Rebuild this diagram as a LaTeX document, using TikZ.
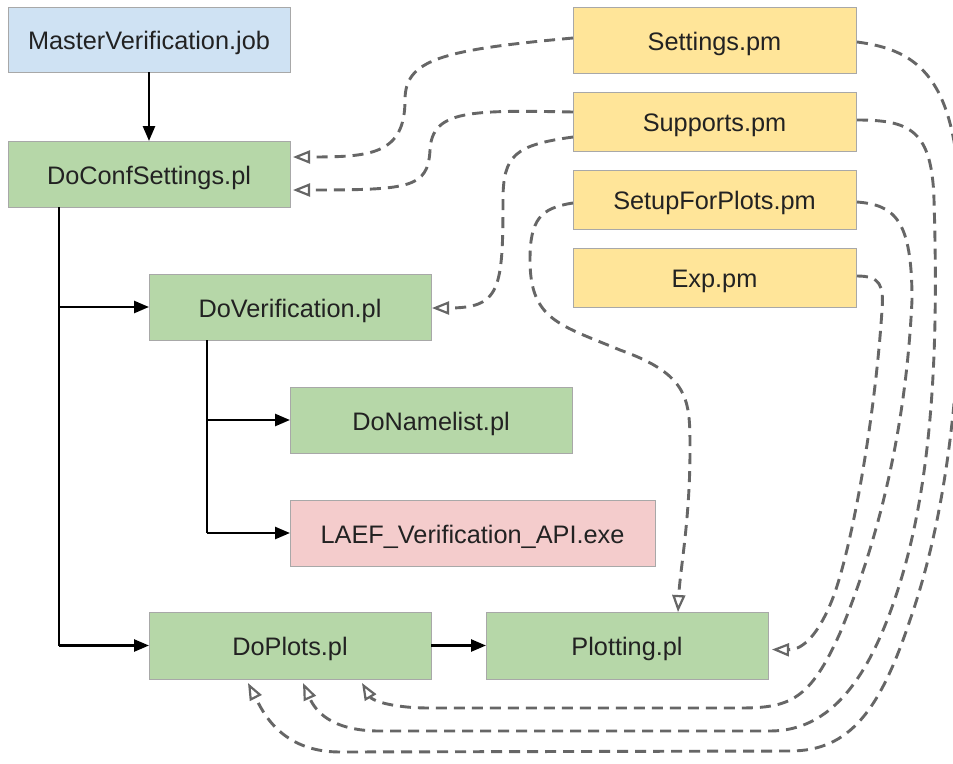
\documentclass[tikz,border=0pt]{standalone}
\usepackage{fontspec}
\setmainfont{Liberation Sans}
\usetikzlibrary{arrows.meta,calc}
\definecolor{cblue}{HTML}{CFE2F3}
\definecolor{cgreen}{HTML}{B6D7A8}
\definecolor{cpink}{HTML}{F4CCCC}
\definecolor{cyellow}{HTML}{FFE599}
\definecolor{cedge}{HTML}{A8A8A8}
\definecolor{cdash}{HTML}{666666}
\definecolor{ctext}{HTML}{222222}
\tikzset{
  box/.style={draw=cedge, line width=1pt, inner sep=0pt, outer sep=0pt,
    minimum height=66pt, text=ctext, font=\fontsize{25.3}{30}\selectfont,
    text height=20pt, text depth=0pt},
  wbox/.style={box, minimum width=282pt},
  pmbox/.style={box, fill=cyellow, minimum width=283pt, minimum height=59pt},
  blk/.style={draw=black, line width=2.5pt, -{Triangle[length=15pt,width=12pt]}},
  blkline/.style={draw=black, line width=2.5pt},
  dsh/.style={draw=cdash, line width=2.9pt, dash pattern=on 11pt off 7pt,
    -{Triangle[open, length=17pt, width=13pt, line width=2.2pt]}},
}
\begin{document}
\begin{tikzpicture}[x=1pt,y=-1pt]
\useasboundingbox (0,0) rectangle (953,763);
\clip (0,0) rectangle (953,763);
\fill[white] (0,0) rectangle (953,763);
% nodes
\node[wbox, fill=cblue, minimum height=65pt] (master) at (149,39.5) {MasterVerification.job};
\node[wbox, fill=cgreen] (conf) at (149,174) {DoConfSettings.pl};
\node[wbox, fill=cgreen] (ver) at (290,307) {DoVerification.pl};
\node[wbox, fill=cgreen] (namel) at (431,420) {DoNamelist.pl};
\node[box, fill=cpink, minimum width=365pt] (laef) at (472.5,533) {LAEF\_Verification\_API.exe};
\node[wbox, fill=cgreen, minimum height=67pt] (doplots) at (290,645.5) {DoPlots.pl};
\node[wbox, fill=cgreen, minimum height=67pt] (plotting) at (627,645.5) {Plotting.pl};
\node[pmbox, minimum height=66pt] (settings) at (714.5,40) {Settings.pm};
\node[pmbox] (supports) at (714.5,121.5) {Supports.pm};
\node[pmbox] (setup) at (714.5,199.5) {SetupForPlots.pm};
\node[pmbox] (exp) at (714.5,277.5) {Exp.pm};
% trunk coordinates
\coordinate (t1) at ($(conf.south)+(-90,0)$);
\coordinate (t2) at ($(ver.south)+(-83,0)$);
% black connectors
\draw[blk] (master.south) -- (conf.north);
\draw[blkline] (t1) -- (t1 |- doplots.west);
\draw[blk] (t1 |- ver.west) -- (ver.west);
\draw[blk] (t1 |- doplots.west) -- (doplots.west);
\draw[blkline] (t2) -- (t2 |- laef.west);
\draw[blk] (t2 |- namel.west) -- (namel.west);
\draw[blk] (t2 |- laef.west) -- (laef.west);
\draw[blk] (doplots.east) -- (plotting.west);
% dashed connectors
\draw[dsh] ($(settings.west)+(0,-2)$) .. controls (440,50) and (405,60) .. (405,100)
  .. controls (405,155) and (370,157) .. ($(conf.east)+(3,-17)$);
\draw[dsh] ($(supports.west)+(0,-9.5)$) .. controls (470,110) and (432,110) .. (430,150)
  .. controls (428,188) and (410,190) .. ($(conf.east)+(3,16)$);
\draw[dsh] ($(supports.west)+(0,15.5)$) .. controls (515,145) and (503,155) .. (503,200)
  .. controls (503,290) and (500,308) .. ($(ver.east)+(1,1)$);
\draw[dsh] ($(setup.west)+(0,3.5)$) .. controls (540,208) and (530,220) .. (530,260)
  .. controls (530,320) and (560,325) .. (620,350)
  .. controls (690,375) and (690,400) .. (690,450)
  .. controls (690,520) and (680,570) .. ($(plotting.north)+(51,0)$);
\draw[dsh] ($(exp.east)+(1,-1.5)$) .. controls (880,276) and (884,285) .. (882,310)
  .. controls (875,420) and (850,560) .. (830,605)
  .. controls (815,640) and (800,650) .. ($(plotting.east)+(4,4)$);
\draw[dsh] ($(setup.east)+(1,2.5)$) .. controls (895,205) and (912,220) .. (912,300)
  .. controls (905,450) and (870,560) .. (840,633)
  .. controls (810,700) and (790,708) .. (740,708)
  -- (430,708)
  .. controls (390,708) and (372,700) .. ($(doplots.south)+(72,4)$);
\draw[dsh] ($(supports.east)+(1,-1.5)$) .. controls (910,120) and (932,130) .. (934,200)
  .. controls (938,330) and (935,470) .. (900,583)
  .. controls (870,680) and (830,731) .. (770,731)
  -- (380,731)
  .. controls (330,731) and (315,710) .. ($(doplots.south)+(13,4)$);
\draw[dsh] ($(settings.east)+(1,2)$) .. controls (920,50) and (955,80) .. (960,200)
  .. controls (965,380) and (945,520) .. (910,620)
  .. controls (880,710) and (850,751) .. (790,751)
  -- (340,752)
  .. controls (280,752) and (262,710) .. ($(doplots.south)+(-42,4)$);
\end{tikzpicture}
\end{document}
